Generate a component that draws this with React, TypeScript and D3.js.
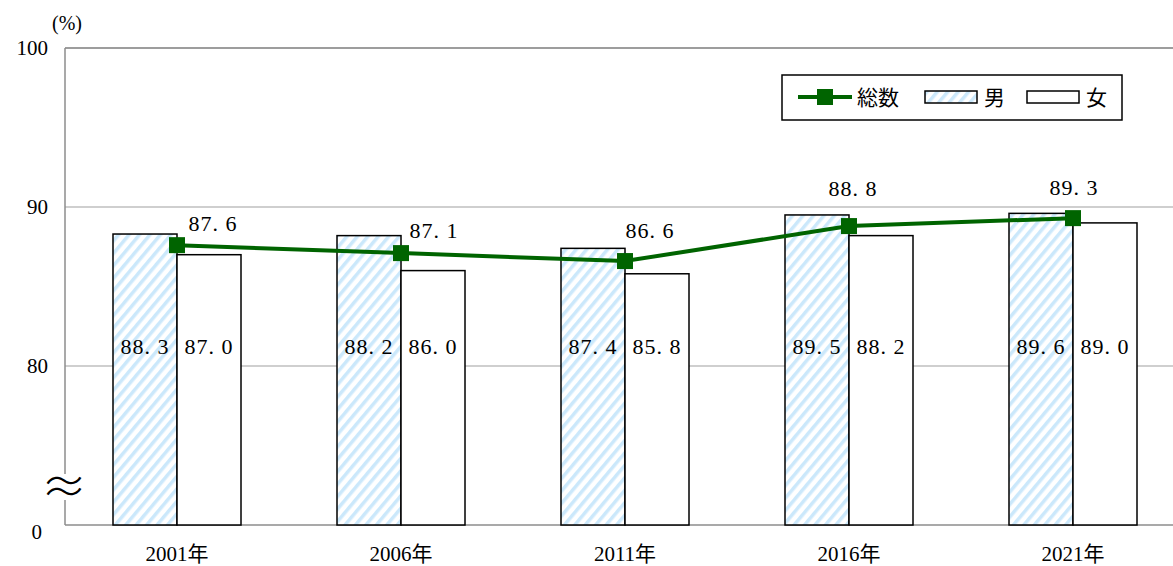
import React from 'react';
import * as d3 from 'd3';

// 年次
const years = ['2001年', '2006年', '2011年', '2016年', '2021年'];
// 総数・男・女 (%)
const totalValues = [87.6, 87.1, 86.6, 88.8, 89.3];
const maleValues = [88.3, 88.2, 87.4, 89.5, 89.6];
const femaleValues = [87.0, 86.0, 85.8, 88.2, 89.0];
// 目盛 (下端は省略記号付きの 0)
const yTicks = [80, 90, 100];
const yBreakLabel = '0';

// 総数ラベルの位置調整 (px)
const totalLabelNudge: [number, number][] = [[36, -21], [33, -22], [25, -30], [4, -37], [1, -30]];

const W = 1173;
const H = 566;
const serif = "'Liberation Serif', 'DejaVu Serif', 'Noto Sans CJK JP', serif";

const App = () => {
  const x0 = d3.scaleBand<string>().domain(years).range([65, 65 + 224 * years.length]);
  const y = d3.scaleLinear().domain([70, 100]).range([525, 48]);
  const barW = 64;
  const cx = (i: number) => (x0(years[i]) as number) + x0.bandwidth() / 2;

  const line = d3.line<number>()
    .x((_, i) => cx(i))
    .y(d => y(d));

  const innerLabelY = y(81.2) + 7;
  const fmt = (v: number) => v.toFixed(1).replace('.', '. ');

  return (
    <svg width={W} height={H} style={{ position: 'absolute', left: 0, top: 0, background: '#fff', fontFamily: serif }}>
      <defs>
        <pattern id="stripe" patternUnits="userSpaceOnUse" width="8" height="8"
          patternTransform="rotate(40)">
          <rect width="8" height="8" fill="#fff" />
          <rect x="0" y="0" width="3.5" height="8" fill="#cbe8fb" />
        </pattern>
      </defs>

      {/* grid */}
      {yTicks.map(t => (
        <line key={t} x1={65} x2={W} y1={y(t)} y2={y(t)} stroke="#a0a0a0" strokeWidth={1.2} />
      ))}
      <line x1={65} x2={65} y1={y(100)} y2={y(70)} stroke="#8c8c8c" strokeWidth={1.5} />
      <line x1={65} x2={W} y1={y(70)} y2={y(70)} stroke="#8c8c8c" strokeWidth={1.5} />
      <line x1={65} x2={W} y1={y(100)} y2={y(100)} stroke="#8c8c8c" strokeWidth={1.5} />

      {/* y labels */}
      {yTicks.map(t => (
        <text key={t} x={48} y={y(t) + 7} textAnchor="end" fontSize={21}>{t}</text>
      ))}
      <text x={42} y={y(70) + 14} textAnchor="end" fontSize={21}>{yBreakLabel}</text>
      <text x={52} y={30} fontSize={20}>(%)</text>
      <rect x={48} y={474} width={32} height={26} fill="#fff" />
      <text x={64} y={503} textAnchor="middle" fontSize={46} fontWeight={300}
        fontFamily="'Noto Sans CJK JP', sans-serif">≈</text>

      {/* bars */}
      {years.map((yr, i) => (
        <g key={yr}>
          <rect x={cx(i) - barW} y={y(maleValues[i])} width={barW} height={y(70) - y(maleValues[i])}
            fill="url(#stripe)" stroke="#000" strokeWidth={1.5} />
          <rect x={cx(i)} y={y(femaleValues[i])} width={barW} height={y(70) - y(femaleValues[i])}
            fill="#fff" stroke="#000" strokeWidth={1.5} />
          <text x={cx(i) - barW / 2} y={innerLabelY} textAnchor="middle" fontSize={22} letterSpacing={1}>
            {fmt(maleValues[i])}
          </text>
          <text x={cx(i) + barW / 2} y={innerLabelY} textAnchor="middle" fontSize={22} letterSpacing={1}>
            {fmt(femaleValues[i])}
          </text>
          <text x={cx(i)} y={y(70) + 36} textAnchor="middle" fontSize={21}>{yr}</text>
        </g>
      ))}

      {/* total line */}
      <path d={line(totalValues) || ''} fill="none" stroke="#006400" strokeWidth={4} />
      {totalValues.map((v, i) => (
        <g key={i}>
          <rect x={cx(i) - 8} y={y(v) - 8} width={16} height={16} fill="#006400" />
          <text x={cx(i) + totalLabelNudge[i][0]} y={y(v) + totalLabelNudge[i][1] + 7}
            textAnchor="middle" fontSize={22} letterSpacing={1}>
            {fmt(v)}
          </text>
        </g>
      ))}

      {/* legend */}
      <g transform="translate(782,75)">
        <rect x={0} y={0} width={340} height={45} fill="#fff" stroke="#000" strokeWidth={1.5} />
        <line x1={16} x2={70} y1={22} y2={22} stroke="#006400" strokeWidth={4} />
        <rect x={35} y={14} width={16} height={16} fill="#006400" />
        <text x={75} y={30} fontSize={21}>総数</text>
        <rect x={143} y={16} width={52} height={12} fill="url(#stripe)" stroke="#000" strokeWidth={1.5} />
        <text x={202} y={30} fontSize={21}>男</text>
        <rect x={245} y={16} width={52} height={12} fill="#fff" stroke="#000" strokeWidth={1.5} />
        <text x={304} y={30} fontSize={21}>女</text>
      </g>
    </svg>
  );
};

export default App;
